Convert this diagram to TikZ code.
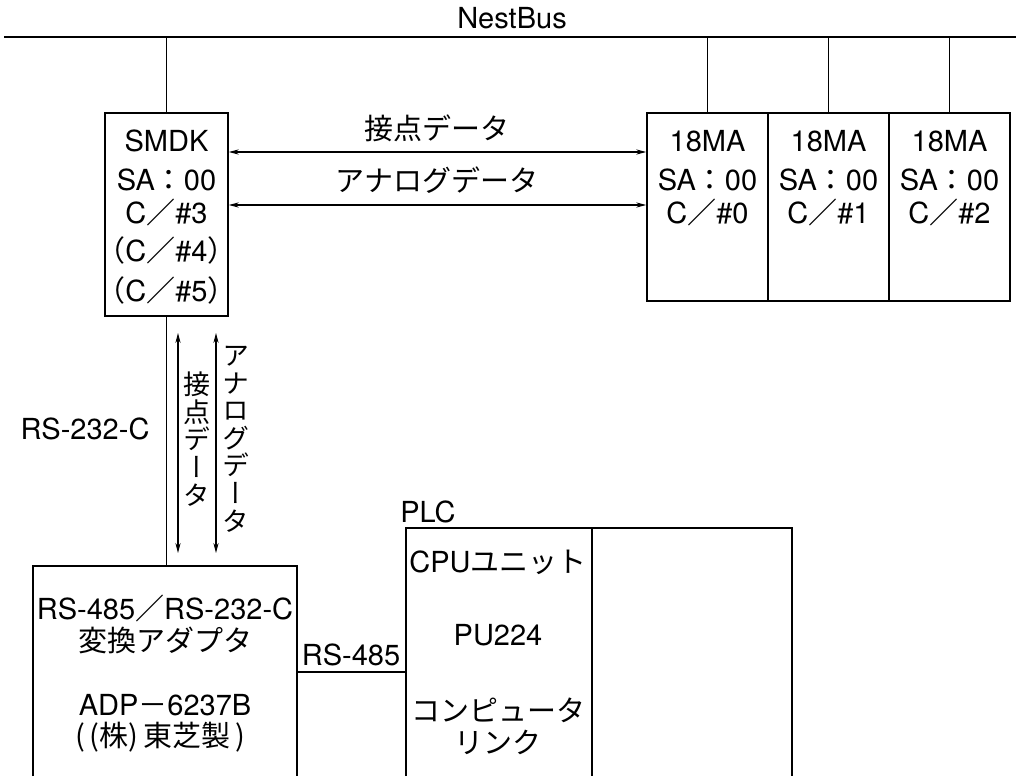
\documentclass[tikz,border=0pt]{standalone}
\usepackage{fontspec}
\usetikzlibrary{arrows.meta, positioning, calc}
\setmainfont{TeX Gyre Heros}
\newfontfamily\jp{Noto Sans CJK JP}
\newfontfamily\jpv[RawFeature=+vert]{Noto Sans CJK JP}

\tikzset{
  box/.style={draw, line width=0.8pt, inner sep=0pt},
  wire/.style={line width=0.8pt},
  flow/.style={line width=0.6pt, {Stealth[length=5pt,width=2.6pt]}-{Stealth[length=5pt,width=2.6pt]}},
  lbl/.style={inner sep=0pt, font=\fontsize{14.5}{16}\selectfont},
  vlbl/.style={inner sep=0pt, align=center, font=\fontsize{13.5}{13.8}\selectfont\jpv},
}

\begin{document}
\begin{tikzpicture}[x=0.5pt, y=-0.5pt]
    \useasboundingbox (0,0) rectangle (1016,776);

    % NestBus
    \coordinate (busL) at (4,37);
    \coordinate (busR) at (1016,37);
    \draw[wire] (busL) -- (busR);
    \node[lbl] (nestbus) at (512,18) {NestBus};

    % SMDK
    \node[box, minimum width=61.5pt, minimum height=101.5pt] (smdk) at (166.5,214.5) {};
    \draw[wire] (smdk.north) -- (smdk.north |- busL);
    \node[lbl] (smdk1) at (166.5,141) {SMDK};
    \node[lbl] (smdk2) at (166.5,180) {SA{\jp ：}00};
    \node[lbl] (smdk3) at (166.5,212) {C{\jp ／}\#3};
    \node[lbl] (smdk4) at (166.5,250) {{\jp （}C{\jp ／}\#4{\jp ）}};
    \node[lbl] (smdk5) at (166.5,290) {{\jp （}C{\jp ／}\#5{\jp ）}};

    % 18MA
    \foreach \i/\x in {0/707.5, 1/828.5, 2/949.5} {
        \node[box, minimum width=60.5pt, minimum height=94pt] (ma\i) at (\x,207) {};
        \draw[wire] (ma\i.north) -- (ma\i.north |- busL);
        \node[lbl] (maname\i) at (\x,141) {18MA};
        \node[lbl] (masa\i) at (\x,180) {SA{\jp ：}00};
        \node[lbl] (mach\i) at (\x,212) {C{\jp ／}\#\i};
    }

    % data between SMDK and 18MA
    \draw[flow] (smdk.east |- 0,152) -- (ma0.west |- 0,152);
    \draw[flow] (smdk.east |- 0,205) -- (ma0.west |- 0,205);
    \node[lbl] (contact) at (437,128) {\jp 接点データ};
    \node[lbl] (analog) at (437,180) {\jp アナログデータ};

    % adapter
    \coordinate (adpNW) at (33,566);
    \coordinate (adpNE) at (297,566);
    \draw[wire] (adpNW |- 0,776) -- (adpNW) -- (adpNE) -- (adpNE |- 0,776);
    \node[lbl] (adp1) at (165,608) {RS-485{\jp ／}RS-232-C};
    \node[lbl] (adp2) at (165,640) {\jp 変換アダプタ};
    \node[lbl] (adp3) at (165,705) {ADP{\jp －}6237B};
    \node[lbl] (adp4) at (160,737) {\jp (\,(株)\,東芝製\,)};

    % RS-232-C
    \draw[wire] (smdk.south) -- (smdk.south |- adpNW);
    \node[lbl] (rs232) at (85,429) {RS-232-C};
    \coordinate (v1t) at (178,333);
    \coordinate (v1b) at (178,553);
    \coordinate (v2t) at (216,333);
    \coordinate (v2b) at (216,553);
    \draw[flow] (v1t) -- (v1b);
    \draw[flow] (v2t) -- (v2b);
    \node[vlbl] (vcontact) at (197,439) {接\\点\\デ\\ー\\タ};
    \node[vlbl] (vanalog) at (236,439) {ア\\ナ\\ロ\\グ\\デ\\ー\\タ};

    % PLC
    \coordinate (plcNW) at (406,528);
    \coordinate (plcNE) at (792,528);
    \coordinate (plcDiv) at (592,528);
    \draw[wire] (plcNW |- 0,776) -- (plcNW) -- (plcNE) -- (plcNE |- 0,776);
    \draw[wire] (plcDiv) -- (plcDiv |- 0,776);
    \node[lbl] (plc) at (428,512) {PLC};
    \node[lbl] (cpu1) at (498,562) {CPU{\jp ユニット}};
    \node[lbl] (cpu2) at (498,635) {PU224};
    \node[lbl] (cpu3) at (498,710) {\jp コンピュータ};
    \node[lbl] (cpu4) at (498,742) {\jp リンク};

    % RS-485
    \draw[wire] (adpNE |- 0,672) -- (plcNW |- 0,672);
    \node[lbl] (rs485) at (351,655) {RS-485};
\end{tikzpicture}
\end{document}
